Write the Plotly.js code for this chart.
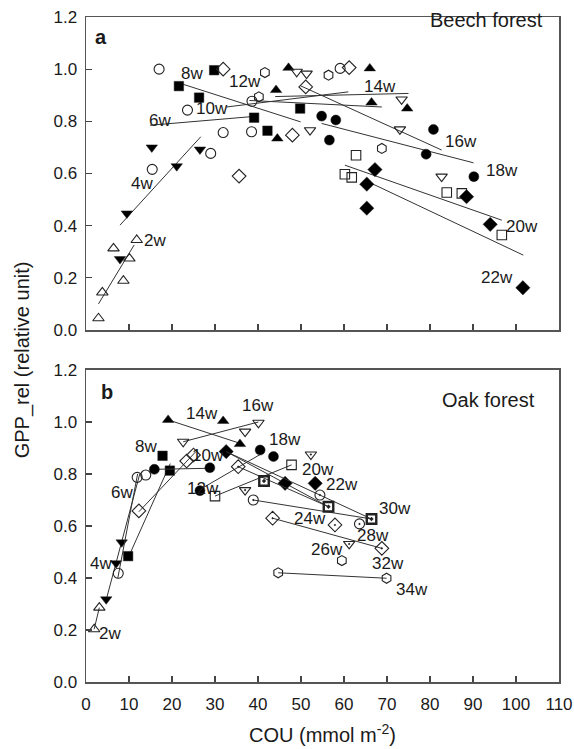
<!DOCTYPE html>
<html><head><meta charset="utf-8">
<script src="https://cdn.plot.ly/plotly-3.0.1.min.js"></script>
<style>html,body{margin:0;padding:0;background:#fff}</style>
</head><body><div id="chart" style="width:574px;height:749px"></div>
<script>
// ---------- Panel a: Beech forest ----------
const a2wX = [2.9, 3.8, 6.4, 8.7, 10.1, 11.8];
const a2wY = [0.045, 0.144, 0.313, 0.189, 0.274, 0.345];
const a2wLineX = [2.9, 11.2];  const a2wLineY = [0.10, 0.326];
const a4wX = [7.9, 9.5, 15.3, 21.1, 26.5];
const a4wY = [0.272, 0.447, 0.70, 0.628, 0.692];
const a4wLineX = [7.9, 26.7];  const a4wLineY = [0.402, 0.741];
const a6wX = [15.4, 17.0, 23.6, 29.0, 31.9, 38.5, 38.6, 59.1];
const a6wY = [0.616, 1.0, 0.843, 0.677, 0.757, 0.760, 0.877, 1.003];
const a6wLineX = [14.9, 38.5]; const a6wLineY = [0.785, 0.818];
const a8wX = [21.6, 26.3, 29.8, 39.1, 42.2, 49.8];
const a8wY = [0.935, 0.891, 0.996, 0.814, 0.764, 0.849];
const a8wLineX = [22.4, 49.9]; const a8wLineY = [0.943, 0.798];
const a10wX = [31.9, 35.6, 48.0, 51.1, 61.2];
const a10wY = [1.0, 0.59, 0.747, 0.932, 1.006];
const a10wLineX = [32.7, 61.0]; const a10wLineY = [0.855, 0.913];
const a12wX = [40.2, 41.6, 56.4, 68.8];
const a12wY = [0.894, 0.987, 0.977, 0.696];
const a12wLineX = [38.0, 68.8]; const a12wLineY = [0.88, 0.855];
const a14wX = [44.2, 44.5, 47.1, 66.0, 66.4, 74.7];
const a14wY = [0.92, 0.734, 1.005, 1.003, 0.872, 0.849];
const a14wLineX = [44.0, 75.0]; const a14wLineY = [0.895, 0.907];
const a16wX = [49.0, 51.3, 52.1, 73.4, 73.0, 82.7];
const a16wY = [0.99, 0.983, 0.766, 0.884, 0.769, 0.588];
const a16wLineX = [49.8, 82.7]; const a16wLineY = [0.937, 0.69];
const a18wX = [54.8, 58.1, 56.6, 80.8, 79.1, 90.2];
const a18wY = [0.820, 0.805, 0.728, 0.769, 0.674, 0.588];
const a18wLineX = [54.8, 90.1]; const a18wLineY = [0.792, 0.641];
const a20wX = [62.8, 60.2, 61.8, 83.9, 87.4, 96.7];
const a20wY = [0.670, 0.597, 0.585, 0.527, 0.524, 0.364];
const a20wLineX = [60.2, 96.7]; const a20wLineY = [0.632, 0.421];
const a22wX = [67.2, 65.3, 65.3, 88.5, 94.0, 101.6];
const a22wY = [0.615, 0.559, 0.467, 0.511, 0.405, 0.162];
const a22wLineX = [66.4, 101.7]; const a22wLineY = [0.562, 0.287];

// ---------- Panel b: Oak forest ----------
const b2wX = [1.9, 3.1];            const b2wY = [0.203, 0.286];
const b2wLineX = [1.9, 3.1];        const b2wLineY = [0.203, 0.286];
const b4wX = [4.7, 7.0, 8.3];       const b4wY = [0.318, 0.457, 0.537];
const b4wLineX = [4.6, 12.5];       const b4wLineY = [0.31, 0.80];
const b6wX = [7.5, 11.9, 13.9];     const b6wY = [0.418, 0.787, 0.796];
const b6wLineX = [7.4, 12.0];       const b6wLineY = [0.40, 0.80];
const b8wX = [9.8, 17.8, 19.5];     const b8wY = [0.484, 0.870, 0.813];
const b8wLineX = [9.6, 19.6];       const b8wLineY = [0.47, 0.84];
const b10wX = [12.3, 23.4, 25.0];   const b10wY = [0.658, 0.850, 0.873];
const b10wLineX = [12.3, 25.5];     const b10wLineY = [0.655, 0.885];
const b12wX = [15.9, 28.8];         const b12wY = [0.818, 0.824];
const b12wLineX = [15.9, 28.8];     const b12wLineY = [0.818, 0.822];
const b14wX = [19.1, 31.9, 35.8];   const b14wY = [1.008, 1.004, 0.915];
const b14wLineX = [19.1, 35.8];     const b14wLineY = [1.008, 0.918];
const b16wX = [22.6, 37.0, 40.1];   const b16wY = [0.924, 0.963, 0.997];
const b16wLineX = [22.6, 40.1];     const b16wLineY = [0.924, 1.0];
const b18wX = [26.5, 40.5, 43.6];   const b18wY = [0.736, 0.892, 0.867];
const b18wLineX = [27.0, 40.5];     const b18wLineY = [0.745, 0.875];
const b20wX = [30.0, 47.8];         const b20wY = [0.715, 0.835];
const b20wLineX = [30.0, 47.8];     const b20wLineY = [0.715, 0.835];
const b22wX = [32.6, 46.3, 53.3];   const b22wY = [0.886, 0.764, 0.764];
const b22wLineX = [32.6, 56.4];     const b22wLineY = [0.886, 0.674];
const b24wX = [43.4, 57.9];         const b24wY = [0.630, 0.604];
const b24wLineX = [43.4, 68.8];     const b24wLineY = [0.630, 0.514];
const b26wX = [37.0, 52.3, 61.2];   const b26wY = [0.738, 0.875, 0.531];
const b26wLineX = [35.4, 56.4];     const b26wLineY = [0.828, 0.674];
const b28wX = [38.9, 54.4, 63.6];   const b28wY = [0.70, 0.719, 0.608];
const b28wLineX = [38.9, 66.4];     const b28wLineY = [0.70, 0.627];
const b30wX = [41.4, 56.4, 66.4];   const b30wY = [0.773, 0.674, 0.627];
const b30wLineX = [32.6, 66.4];     const b30wLineY = [0.886, 0.627];
const b32wX = [35.4, 68.8];         const b32wY = [0.828, 0.514];
const b34wX = [44.7, 59.5, 69.9];   const b34wY = [0.42, 0.467, 0.399];
const b34wLineX = [44.7, 69.9];     const b34wLineY = [0.42, 0.399];

const xTicks = [0, 10, 20, 30, 40, 50, 60, 70, 80, 90, 100, 110];
const yTicks = [0.0, 0.2, 0.4, 0.6, 0.8, 1.0, 1.2];

const FONT = 'Liberation Sans, Arial, sans-serif';
const INK = '#1a1a1a';
const traces = [];
function series(x, y, lx, ly, sym, xa, ya) {
  if (lx) traces.push({x: lx, y: ly, xaxis: xa, yaxis: ya, mode: 'lines',
    line: {color: '#333', width: 1}, hoverinfo: 'skip', showlegend: false});
  const open = sym.indexOf('open') >= 0;
  const dotted = sym.indexOf('dot') >= 0;
  let size = 10;
  if (sym.indexOf('diamond') >= 0) size = open ? 10.5 : 11;
  if (sym.indexOf('square') >= 0) size = 9.5;
  traces.push({x: x, y: y, xaxis: xa, yaxis: ya, mode: 'markers', showlegend: false,
    marker: {symbol: sym, size: size,
      color: open ? '#222' : '#000',
      line: {color: '#222', width: sym === 'square-open-dot' ? 2.4 : (open ? 1.1 : 0.5)}}});
}
// panel a
series(a2wX, a2wY, a2wLineX, a2wLineY, 'triangle-up-open', 'x', 'y');
series(a4wX, a4wY, a4wLineX, a4wLineY, 'triangle-down', 'x', 'y');
series(a6wX, a6wY, a6wLineX, a6wLineY, 'circle-open', 'x', 'y');
series(a8wX, a8wY, a8wLineX, a8wLineY, 'square', 'x', 'y');
series(a10wX, a10wY, a10wLineX, a10wLineY, 'diamond-open', 'x', 'y');
series(a12wX, a12wY, a12wLineX, a12wLineY, 'hexagon-open', 'x', 'y');
series(a14wX, a14wY, a14wLineX, a14wLineY, 'triangle-up', 'x', 'y');
series(a16wX, a16wY, a16wLineX, a16wLineY, 'triangle-down-open', 'x', 'y');
series(a18wX, a18wY, a18wLineX, a18wLineY, 'circle', 'x', 'y');
series(a20wX, a20wY, a20wLineX, a20wLineY, 'square-open', 'x', 'y');
series(a22wX, a22wY, a22wLineX, a22wLineY, 'diamond', 'x', 'y');
// panel b
series(b2wX, b2wY, b2wLineX, b2wLineY, 'triangle-up-open', 'x2', 'y2');
series(b4wX, b4wY, b4wLineX, b4wLineY, 'triangle-down', 'x2', 'y2');
series(b6wX, b6wY, b6wLineX, b6wLineY, 'circle-open', 'x2', 'y2');
series(b8wX, b8wY, b8wLineX, b8wLineY, 'square', 'x2', 'y2');
series(b10wX, b10wY, b10wLineX, b10wLineY, 'diamond-open', 'x2', 'y2');
series(b12wX, b12wY, b12wLineX, b12wLineY, 'circle', 'x2', 'y2');
series(b14wX, b14wY, b14wLineX, b14wLineY, 'triangle-up', 'x2', 'y2');
series(b16wX, b16wY, b16wLineX, b16wLineY, 'triangle-down-open', 'x2', 'y2');
series(b18wX, b18wY, b18wLineX, b18wLineY, 'circle', 'x2', 'y2');
series(b20wX, b20wY, b20wLineX, b20wLineY, 'square-open', 'x2', 'y2');
series(b22wX, b22wY, b22wLineX, b22wLineY, 'diamond', 'x2', 'y2');
series(b24wX, b24wY, b24wLineX, b24wLineY, 'diamond-open-dot', 'x2', 'y2');
series(b26wX, b26wY, b26wLineX, b26wLineY, 'triangle-down-open-dot', 'x2', 'y2');
series(b28wX, b28wY, b28wLineX, b28wLineY, 'circle-open-dot', 'x2', 'y2');
series(b30wX, b30wY, b30wLineX, b30wLineY, 'square-open-dot', 'x2', 'y2');
series(b32wX, b32wY, null, null, 'diamond-open-dot', 'x2', 'y2');
series(b34wX, b34wY, b34wLineX, b34wLineY, 'hexagon-open', 'x2', 'y2');

function lab(text, x, y, xa, ya) {
  return {text: text, x: x, y: y, xref: xa, yref: ya, showarrow: false,
    xanchor: 'center', yanchor: 'middle',
    font: {family: FONT, size: 17, color: INK}};
}
const annotations = [
  lab('2w', 16.0, 0.345, 'x', 'y'), lab('4w', 13.0, 0.562, 'x', 'y'),
  lab('6w', 17.2, 0.805, 'x', 'y'), lab('8w', 24.6, 0.983, 'x', 'y'),
  lab('10w', 29.2, 0.849, 'x', 'y'), lab('12w', 37.0, 0.951, 'x', 'y'),
  lab('14w', 68.4, 0.935, 'x', 'y'), lab('16w', 87.1, 0.722, 'x', 'y'),
  lab('18w', 96.7, 0.61, 'x', 'y'), lab('20w', 101.3, 0.398, 'x', 'y'),
  lab('22w', 95.5, 0.202, 'x', 'y'),
  lab('2w', 5.6, 0.187, 'x2', 'y2'), lab('4w', 3.6, 0.457, 'x2', 'y2'),
  lab('6w', 8.3, 0.728, 'x2', 'y2'), lab('8w', 14.0, 0.905, 'x2', 'y2'),
  lab('10w', 28.4, 0.873, 'x2', 'y2'), lab('12w', 27.3, 0.745, 'x2', 'y2'),
  lab('14w', 26.9, 1.033, 'x2', 'y2'), lab('16w', 40.1, 1.062, 'x2', 'y2'),
  lab('18w', 46.3, 0.931, 'x2', 'y2'), lab('20w', 54.0, 0.818, 'x2', 'y2'),
  lab('22w', 59.5, 0.758, 'x2', 'y2'), lab('24w', 52.1, 0.630, 'x2', 'y2'),
  lab('26w', 56.0, 0.510, 'x2', 'y2'), lab('28w', 66.8, 0.565, 'x2', 'y2'),
  lab('30w', 71.9, 0.668, 'x2', 'y2'), lab('32w', 70.3, 0.457, 'x2', 'y2'),
  lab('34w', 75.7, 0.354, 'x2', 'y2'),
  {text: '<b>a</b>', x: 3.5, y: 1.123, xref: 'x', yref: 'y', showarrow: false,
   xanchor: 'center', yanchor: 'middle', font: {family: FONT, size: 20, color: INK}},
  {text: '<b>b</b>', x: 4.8, y: 1.117, xref: 'x2', yref: 'y2', showarrow: false,
   xanchor: 'center', yanchor: 'middle', font: {family: FONT, size: 20, color: INK}},
  {text: 'Beech forest', x: 0.970, y: 1.188, xref: 'paper', yref: 'y', xanchor: 'right',
   yanchor: 'middle', showarrow: false, font: {family: FONT, size: 20, color: INK}},
  {text: 'Oak forest', x: 0.953, y: 1.085, xref: 'paper', yref: 'y2', xanchor: 'right',
   yanchor: 'middle', showarrow: false, font: {family: FONT, size: 20, color: INK}},
  {text: 'GPP_rel (relative unit)', x: -0.135, y: 0.484, xref: 'paper', yref: 'paper',
   xanchor: 'center', yanchor: 'middle',
   textangle: -90, showarrow: false, font: {family: FONT, size: 20, color: INK}},
  {text: 'COU (mmol m<sup>-2</sup>)', x: 0.5, y: -0.0767, xref: 'paper', yref: 'paper',
   xanchor: 'center', yanchor: 'middle',
   showarrow: false, font: {family: FONT, size: 20, color: INK}}
];

const baseX = {range: [0, 110], tickvals: xTicks, ticks: 'inside', ticklen: 6, tickwidth: 1.2,
  tickcolor: '#444', showline: true, mirror: true, linecolor: '#555', linewidth: 1.5,
  showgrid: false, zeroline: false, fixedrange: true,
  tickfont: {family: FONT, size: 17, color: INK}};
const baseY = {range: [0, 1.2], tickvals: yTicks, tickformat: '.1f', ticks: 'inside', ticklen: 6,
  tickwidth: 1.2, tickcolor: '#444', showline: true, mirror: true, linecolor: '#555',
  linewidth: 1.5, showgrid: false, zeroline: false, fixedrange: true, ticklabelstandoff: 4,
  tickfont: {family: FONT, size: 17, color: INK}};

const layout = {
  width: 574, height: 749, margin: {l: 86, r: 15, t: 17, b: 67},
  paper_bgcolor: '#fff', plot_bgcolor: '#fff', showlegend: false,
  xaxis: Object.assign({}, baseX, {anchor: 'y', domain: [0, 1], showticklabels: false}),
  yaxis: Object.assign({}, baseY, {anchor: 'x', domain: [0.5293, 1]}),
  xaxis2: Object.assign({}, baseX, {anchor: 'y2', domain: [0, 1], ticklabelstandoff: 6}),
  yaxis2: Object.assign({}, baseY, {anchor: 'x2', domain: [0, 0.4692]}),
  annotations: annotations
};
Plotly.newPlot('chart', traces, layout, {displayModeBar: false, staticPlot: true});
</script></body></html>
